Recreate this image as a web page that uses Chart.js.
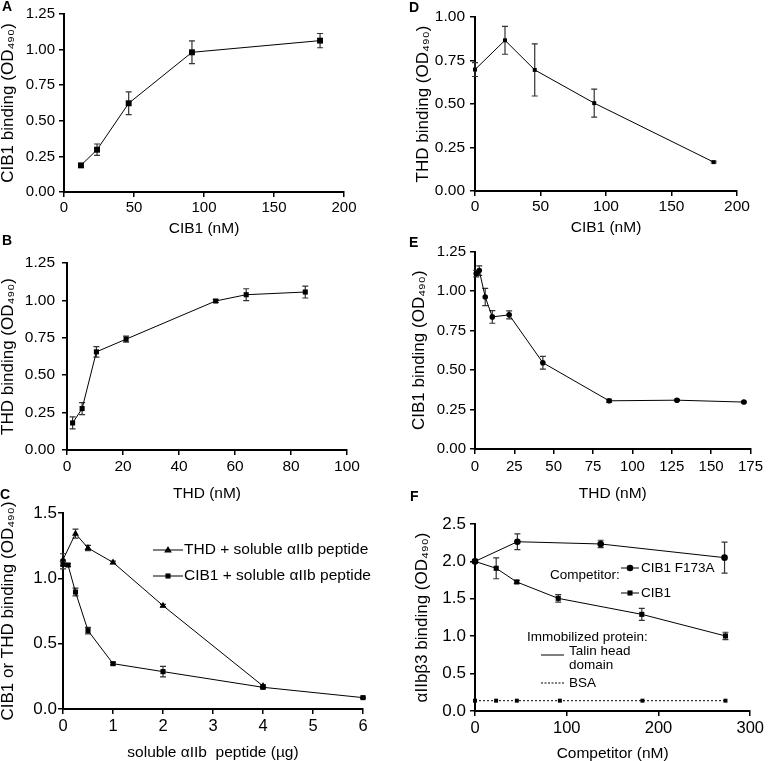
<!DOCTYPE html>
<html>
<head>
<meta charset="utf-8">
<script src="https://cdn.jsdelivr.net/npm/chart.js@4.4.1/dist/chart.umd.min.js"></script>
<style>
  body { margin: 0; background: #fff; }
  #fig { position: relative; width: 768px; height: 761px; overflow: hidden; background: #fff; }
  #fig canvas { position: absolute; }
  .tag { position: absolute; font: bold 14px "Liberation Sans", Arial, sans-serif; line-height: 1; }
</style>
</head>
<body>
<div id="fig">
  <canvas id="cA"></canvas><canvas id="cB"></canvas><canvas id="cC"></canvas>
  <canvas id="cD"></canvas><canvas id="cE"></canvas><canvas id="cF"></canvas>
  <div class="tag" style="left:2px;top:-1px">A</div>
  <div class="tag" style="left:2px;top:233px">B</div>
  <div class="tag" style="left:0px;top:487px">C</div>
  <div class="tag" style="left:409px;top:0px">D</div>
  <div class="tag" style="left:409px;top:235px">E</div>
  <div class="tag" style="left:410px;top:489px">F</div>
</div>
<script>
// --- data ---

// A: CIB1 binding vs CIB1 (nM)
const aDose = [12.1, 23.6, 46.2, 91.4, 182.9];
const aOD = [0.187, 0.297, 0.623, 0.981, 1.063];
const aErr = [0.01, 0.04, 0.08, 0.08, 0.05];
const aTicksX = [0, 50, 100, 150, 200];
const aTicksY = [0, 0.25, 0.5, 0.75, 1, 1.25];

// B: THD binding vs THD (nM)
const bDose = [2.0, 5.4, 10.5, 21.1, 53.1, 64.0, 85.1];
const bOD = [0.181, 0.277, 0.656, 0.741, 0.996, 1.038, 1.056];
const bErr = [0.04, 0.04, 0.035, 0.02, 0.01, 0.04, 0.04];
const bTicksX = [0, 20, 40, 60, 80, 100];
const bTicksY = [0, 0.25, 0.5, 0.75, 1, 1.25];

// C: binding vs soluble aIIb peptide (ug)
const cThdDose = [0, 0.25, 0.5, 1, 2, 4];
const cThdOD = [1.143, 1.342, 1.232, 1.122, 0.791, 0.176];
const cThdErr = [0.045, 0.035, 0.02, 0.01, 0.01, 0.01];
const cCibDose = [0, 0.1, 0.25, 0.5, 1, 2, 4, 6];
const cCibOD = [1.107, 1.102, 0.895, 0.6, 0.347, 0.286, 0.166, 0.087];
const cCibErr = [0.035, 0.01, 0.03, 0.025, 0.01, 0.04, 0.01, 0.005];
const cTicksX = [0, 1, 2, 3, 4, 5, 6];
const cTicksY = [0, 0.5, 1, 1.5];

// D: THD binding vs CIB1 (nM)
const dDose = [0, 22.9, 45.6, 91, 182.2];
const dOD = [0.698, 0.866, 0.696, 0.505, 0.166];
const dErr = [0.04, 0.08, 0.15, 0.08, 0.005];
const dTicksX = [0, 50, 100, 150, 200];
const dTicksY = [0, 0.25, 0.5, 0.75, 1];

// E: CIB1 binding vs THD (nM)
const eDose = [0.8, 2.7, 6.5, 11, 21.7, 43.1, 85.2, 128.3, 170.8];
const eOD = [1.11, 1.129, 0.962, 0.836, 0.849, 0.546, 0.305, 0.309, 0.297];
const eErr = [0.02, 0.03, 0.055, 0.04, 0.025, 0.04, 0.01, 0.005, 0.005];
const eTicksX = [0, 25, 50, 75, 100, 125, 150, 175];
const eTicksY = [0, 0.25, 0.5, 0.75, 1, 1.25];

// F: aIIbb3 binding vs competitor (nM)
const fMutDose = [0, 46.2, 137, 272];
const fMutOD = [2.0, 2.263, 2.233, 2.05];
const fMutErr = [0.01, 0.105, 0.05, 0.207];
const fCibDose = [0, 23.1, 45.5, 90.7, 181.8, 273];
const fCibOD = [2.0, 1.908, 1.725, 1.506, 1.292, 1.003];
const fCibErr = [0.01, 0.14, 0.02, 0.05, 0.08, 0.05];
const fBsaDose = [0, 23, 45.6, 92.5, 182.5, 273];
const fBsaOD = [0.138, 0.138, 0.138, 0.138, 0.138, 0.138];
const fTicksX = [0, 100, 200, 300];
const fTicksY = [0, 0.5, 1, 1.5, 2, 2.5];

Chart.defaults.font.family = '"Liberation Sans", Arial, sans-serif';
Chart.defaults.color = '#000';

// vertical error bars, drawn under the markers
const errorBars = {
  id: 'errorBars',
  beforeDatasetsDraw(chart) {
    const { ctx, scales: { x, y } } = chart;
    ctx.save();
    ctx.strokeStyle = '#333';
    ctx.lineWidth = 1.2;
    chart.data.datasets.forEach(ds => {
      if (!ds.err) return;
      ds.data.forEach((p, i) => {
        const px = x.getPixelForValue(p.x);
        const top = y.getPixelForValue(p.y + ds.err[i]);
        const bot = y.getPixelForValue(p.y - ds.err[i]);
        ctx.beginPath();
        ctx.moveTo(px, top); ctx.lineTo(px, bot);
        ctx.moveTo(px - 3, top); ctx.lineTo(px + 3, top);
        ctx.moveTo(px - 3, bot); ctx.lineTo(px + 3, bot);
        ctx.stroke();
      });
    });
    ctx.restore();
  }
};

function marker(ctx, style, x, y, r) {
  ctx.beginPath();
  if (style === 'rect') {
    const s = r * Math.SQRT1_2;
    ctx.rect(x - s, y - s, 2 * s, 2 * s);
  } else if (style === 'triangle') {
    ctx.moveTo(x, y - r);
    ctx.lineTo(x + r * 0.95, y + r * 0.6);
    ctx.lineTo(x - r * 0.95, y + r * 0.6);
    ctx.closePath();
  } else {
    ctx.arc(x, y, r, 0, Math.PI * 2);
  }
  ctx.fill();
}

// legend keys and free text (page coordinates)
const notes = {
  id: 'notes',
  afterDraw(chart, args, opts) {
    if (!opts.items) return;
    const ctx = chart.ctx;
    ctx.save();
    ctx.translate(-opts.ox, -opts.oy);
    ctx.fillStyle = '#000';
    ctx.strokeStyle = '#000';
    ctx.lineWidth = 1;
    opts.items.forEach(it => {
      if (it.text) {
        ctx.font = it.size + 'px "Liberation Sans", Arial, sans-serif';
        ctx.textBaseline = 'middle';
        ctx.textAlign = 'left';
        ctx.fillText(it.text, it.x, it.y);
      } else {
        ctx.setLineDash(it.dash || []);
        ctx.beginPath();
        ctx.moveTo(it.x1, it.y); ctx.lineTo(it.x2, it.y);
        ctx.stroke();
        ctx.setLineDash([]);
        if (it.style) marker(ctx, it.style, (it.x1 + it.x2) / 2, it.y, it.r);
      }
    });
    ctx.restore();
  }
};

function series(xs, ys, errs, style, r, dash) {
  return {
    data: xs.map((v, i) => ({ x: v, y: ys[i] })),
    err: errs,
    showLine: true,
    borderColor: '#000',
    borderWidth: 1,
    borderDash: dash || [],
    pointStyle: style,
    pointRadius: r,
    pointHoverRadius: r,
    pointBackgroundColor: '#000',
    pointBorderWidth: 0,
    clip: false
  };
}

function axis(ticks, dec, size, pad, title, titleSize) {
  return {
    type: 'linear',
    min: ticks[0],
    max: ticks[ticks.length - 1],
    afterBuildTicks: s => { s.ticks = ticks.map(v => ({ value: v })); },
    border: { color: '#000', width: 2 },
    grid: { drawOnChartArea: false, drawTicks: true, tickLength: 5, tickColor: '#000', lineWidth: 1.5 },
    ticks: {
      autoSkip: false, maxRotation: 0, padding: pad,
      font: { size: size, lineHeight: 1 },
      callback: v => (dec === 0 ? String(v) : v.toFixed(dec))
    },
    title: { display: true, text: title, padding: 0, font: { size: titleSize, lineHeight: 1 } }
  };
}

function panel(id, p) {
  const cv = document.getElementById(id);
  const f = p.frame;
  cv.width = f.w; cv.height = f.h;
  cv.style.left = f.x + 'px'; cv.style.top = f.y + 'px';
  const padLeft = Math.max(0, p.yTitleX - f.x - p.yTitleSize / 2);
  const yWidth = p.area.l - f.x - padLeft;
  const xHeight = f.y + f.h - p.area.b;
  const xAxis = axis(p.xTicks, 0, p.xTickSize, p.xPad, p.xTitle, p.xTitleSize);
  xAxis.afterFit = s => { s.height = xHeight; };
  const yAxis = axis(p.yTicks, p.dec, p.yTickSize, p.yPad, p.yTitle, p.yTitleSize);
  yAxis.afterFit = s => { s.width = yWidth; };
  return new Chart(cv, {
    type: 'scatter',
    data: { datasets: p.sets },
    options: {
      responsive: false,
      animation: false,
      events: [],
      layout: { padding: { left: padLeft, top: p.area.t - f.y, right: f.x + f.w - p.area.r, bottom: 0 } },
      scales: { x: xAxis, y: yAxis },
      plugins: {
        legend: { display: false },
        tooltip: { enabled: false },
        notes: { ox: f.x, oy: f.y, items: p.notes || [] }
      }
    },
    plugins: [errorBars, notes]
  });
}

panel('cA', {
  frame: { x: 0, y: 0, w: 384, h: 236 }, area: { l: 64, r: 344, t: 14, b: 192 },
  xTicks: aTicksX, yTicks: aTicksY, dec: 2,
  xTickSize: 15, yTickSize: 15, xPad: 3.5, yPad: 4,
  xTitle: 'CIB1 (nM)', yTitle: 'CIB1 binding (OD₄₉₀)', xTitleSize: 15.5, yTitleSize: 17, yTitleX: 8,
  sets: [series(aDose, aOD, aErr, 'rect', 4.2)]
});

panel('cD', {
  frame: { x: 384, y: 0, w: 384, h: 235 }, area: { l: 475, r: 737, t: 17, b: 191 },
  xTicks: dTicksX, yTicks: dTicksY, dec: 2,
  xTickSize: 15.5, yTickSize: 15.5, xPad: 2.5, yPad: 5,
  xTitle: 'CIB1 (nM)', yTitle: 'THD binding (OD₄₉₀)', xTitleSize: 15.5, yTitleSize: 17, yTitleX: 423,
  sets: [series(dDose, dOD, dErr, 'rect', 2.8)]
});

panel('cB', {
  frame: { x: 0, y: 240, w: 384, h: 261 }, area: { l: 67, r: 347, t: 263, b: 450 },
  xTicks: bTicksX, yTicks: bTicksY, dec: 2,
  xTickSize: 15.5, yTickSize: 15.5, xPad: 4, yPad: 7,
  xTitle: 'THD (nM)', yTitle: 'THD binding (OD₄₉₀)', xTitleSize: 15.5, yTitleSize: 17, yTitleX: 8,
  sets: [series(bDose, bOD, bErr, 'rect', 3.6)]
});

panel('cE', {
  frame: { x: 384, y: 240, w: 384, h: 261 }, area: { l: 475, r: 755, t: 250, b: 449 },
  xTicks: eTicksX, yTicks: eTicksY, dec: 2,
  xTickSize: 15, yTickSize: 15, xPad: 5, yPad: 4,
  xTitle: 'THD (nM)', yTitle: 'CIB1 binding (OD₄₉₀)', xTitleSize: 15.5, yTitleSize: 17, yTitleX: 419,
  sets: [series(eDose, eOD, eErr, 'circle', 2.8)]
});

panel('cC', {
  frame: { x: 0, y: 480, w: 384, h: 280 }, area: { l: 63, r: 363, t: 513, b: 709 },
  xTicks: cTicksX, yTicks: cTicksY, dec: 1,
  xTickSize: 16.5, yTickSize: 17, xPad: 4.5, yPad: 1,
  xTitle: 'soluble αIIb  peptide (µg)', yTitle: 'CIB1 or THD binding (OD₄₉₀)', xTitleSize: 15.5, yTitleSize: 17, yTitleX: 8.5,
  sets: [
    series(cThdDose, cThdOD, cThdErr, 'triangle', 4),
    series(cCibDose, cCibOD, cCibErr, 'rect', 3.6)
  ],
  notes: [
    { x1: 153, x2: 183, y: 550, style: 'triangle', r: 4 },
    { text: 'THD + soluble αIIb peptide', x: 184, y: 550, size: 15.5 },
    { x1: 153, x2: 183, y: 576, style: 'rect', r: 3.6 },
    { text: 'CIB1 + soluble αIIb peptide', x: 184, y: 576, size: 15.5 }
  ]
});

panel('cF', {
  frame: { x: 384, y: 480, w: 384, h: 281 }, area: { l: 475, r: 755, t: 524, b: 711 },
  xTicks: fTicksX, yTicks: fTicksY, dec: 1,
  xTickSize: 16.5, yTickSize: 17, xPad: 4, yPad: 4,
  xTitle: 'Competitor (nM)', yTitle: 'αIIbβ3 binding (OD₄₉₀)', xTitleSize: 15.5, yTitleSize: 17, yTitleX: 422,
  sets: [
    series(fMutDose, fMutOD, fMutErr, 'circle', 3.3),
    series(fCibDose, fCibOD, fCibErr, 'rect', 3.6),
    series(fBsaDose, fBsaOD, null, 'rect', 2.8, [2, 2])
  ],
  notes: [
    { x1: 621, x2: 639, y: 568, style: 'circle', r: 3.3 },
    { text: 'CIB1 F173A', x: 641, y: 568, size: 13.5 },
    { text: 'Competitor:', x: 550, y: 575, size: 13.5 },
    { x1: 621, x2: 639, y: 593, style: 'rect', r: 3.6 },
    { text: 'CIB1', x: 641, y: 593, size: 13.5 },
    { text: 'Immobilized protein:', x: 527, y: 637, size: 13.5 },
    { x1: 541, x2: 564, y: 655 },
    { text: 'Talin head', x: 569, y: 651, size: 13.5 },
    { text: 'domain', x: 569, y: 665, size: 13.5 },
    { x1: 541, x2: 564, y: 683, dash: [2, 1.5] },
    { text: 'BSA', x: 569, y: 683, size: 13.5 }
  ]
});
</script>
</body>
</html>
